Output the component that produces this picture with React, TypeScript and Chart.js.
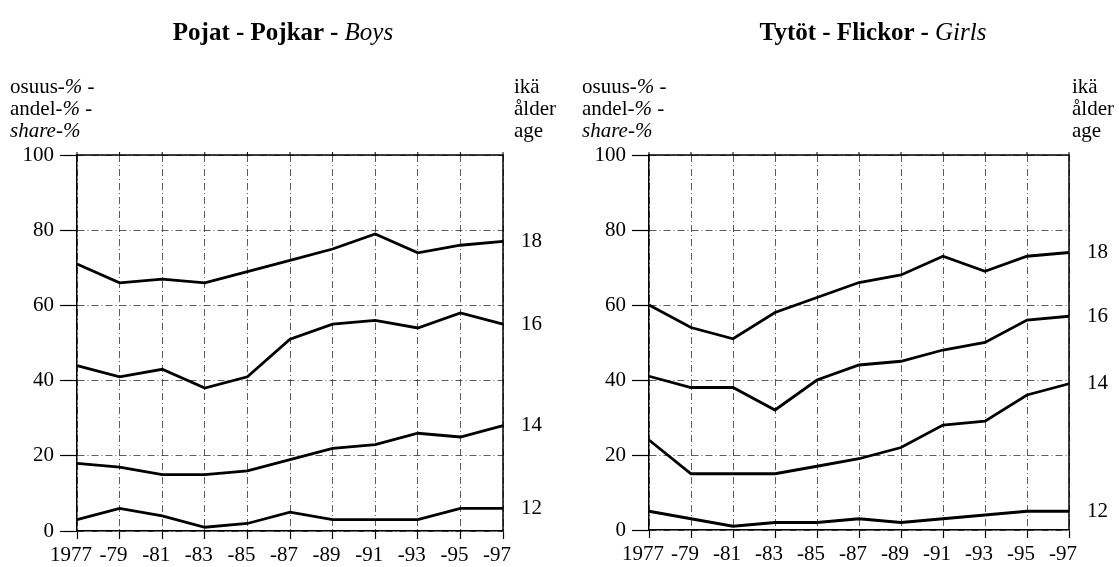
import React, { useEffect, useRef } from 'react';
import { Chart, registerables } from 'chart.js';

Chart.register(...registerables);

const years = ['1977', '-79', '-81', '-83', '-85', '-87', '-89', '-91', '-93', '-95', '-97'];
const ageLabels = ['12', '14', '16', '18'];
const yTickValues = [0, 20, 40, 60, 80, 100];

const boys12 = [3, 6, 4, 1, 2, 5, 3, 3, 3, 6, 6];
const boys14 = [18, 17, 15, 15, 16, 19, 22, 23, 26, 25, 28];
const boys16 = [44, 41, 43, 38, 41, 51, 55, 56, 54, 58, 55];
const boys18 = [71, 66, 67, 66, 69, 72, 75, 79, 74, 76, 77];

const girls12 = [5, 3, 1, 2, 2, 3, 2, 3, 4, 5, 5];
const girls14 = [24, 15, 15, 15, 17, 19, 22, 28, 29, 36, 39];
const girls16 = [41, 38, 38, 32, 40, 44, 45, 48, 50, 56, 57];
const girls18 = [60, 54, 51, 58, 62, 66, 68, 73, 69, 73, 74];

const FONT = '"Liberation Serif", "Times New Roman", serif';

type Area = { left: number; right: number; top: number; bottom: number };

const framePlugin = {
  id: 'frame',
  afterDatasetsDraw(chart: any) {
    const { ctx, chartArea } = chart;
    const xs = chart.scales.x;
    ctx.save();
    ctx.strokeStyle = '#000';
    ctx.lineWidth = 1.5;
    ctx.beginPath();
    ctx.moveTo(chartArea.left, chartArea.top);
    ctx.lineTo(chartArea.right, chartArea.top);
    ctx.lineTo(chartArea.right, chartArea.bottom);
    ctx.stroke();
    ctx.lineWidth = 1;
    for (let i = 0; i < years.length; i++) {
      const x = xs.getPixelForValue(i);
      ctx.beginPath();
      ctx.moveTo(x, chartArea.top - 3);
      ctx.lineTo(x, chartArea.top);
      ctx.stroke();
    }
    ctx.restore();
  },
};

const agePlugin = {
  id: 'ageLabels',
  afterDraw(chart: any) {
    const { ctx, chartArea } = chart;
    const ys = chart.scales.y;
    ctx.save();
    ctx.fillStyle = '#000';
    ctx.font = '21px ' + FONT;
    ctx.textAlign = 'left';
    ctx.textBaseline = 'middle';
    chart.data.datasets.forEach((ds: any) => {
      const v = ds.data[ds.data.length - 1];
      ctx.fillText(ds.label, chartArea.right + 18, ys.getPixelForValue(v));
    });
    ctx.restore();
  },
};

function LineChart(props: { series: number[][]; width: number; height: number; area: Area }) {
  const ref = useRef<HTMLCanvasElement | null>(null);
  const { series, width, height, area } = props;
  useEffect(() => {
    if (!ref.current) return;
    const gridDash = [7, 3, 1, 3];
    const chart = new Chart(ref.current, {
      type: 'line',
      data: {
        labels: years,
        datasets: series.map((s, i) => ({
          label: ageLabels[i],
          data: s,
          borderColor: '#000',
          borderWidth: 2.8,
          pointRadius: 0,
          tension: 0,
          fill: false,
        })),
      },
      options: {
        animation: false,
        responsive: false,
        events: [],
        layout: {
          padding: { left: 0, top: area.top, right: width - area.right, bottom: 0 },
        },
        plugins: {
          legend: { display: false },
          title: { display: false },
          tooltip: { enabled: false },
        },
        scales: {
          x: {
            type: 'category',
            offset: false,
            afterFit: (s: any) => {
              s.height = height - area.bottom;
            },
            grid: {
              display: true,
              color: '#333',
              lineWidth: 0.8,
              drawOnChartArea: true,
              drawTicks: true,
              tickLength: 8,
              tickColor: '#000',
              tickWidth: 1.2,
              tickBorderDash: [],
            },
            border: { display: true, color: '#000', width: 1.5, dash: gridDash },
            ticks: {
              color: '#000',
              font: { family: FONT, size: 21 },
              padding: 4,
              labelOffset: -6,
              maxRotation: 0,
              autoSkip: false,
            },
          },
          y: {
            type: 'linear',
            min: 0,
            max: 100,
            afterFit: (s: any) => {
              s.width = area.left;
            },
            afterBuildTicks: (s: any) => {
              s.ticks = yTickValues.map((v) => ({ value: v }));
            },
            grid: {
              display: true,
              color: '#333',
              lineWidth: 0.8,
              drawOnChartArea: true,
              drawTicks: true,
              tickLength: 17,
              tickColor: '#000',
              tickWidth: 1.2,
              tickBorderDash: [],
            },
            border: { display: true, color: '#000', width: 1.5, dash: gridDash },
            ticks: {
              color: '#000',
              font: { family: FONT, size: 21 },
              padding: 6,
            },
          },
        },
      },
      plugins: [framePlugin, agePlugin],
    } as any);
    return () => chart.destroy();
  }, []);
  return <canvas ref={ref} width={width} height={height} style={{ width, height, display: 'block' }} />;
}

const textBase = {
  position: 'absolute' as const,
  top: 75,
  fontFamily: FONT,
  fontSize: 21,
  lineHeight: '22px',
  whiteSpace: 'nowrap' as const,
  color: '#000',
};

function Caption(props: { left: number }) {
  return (
    <div style={{ ...textBase, left: props.left }}>
      <div>
        osuus-<i>%</i> -
      </div>
      <div>
        andel-<i>%</i> -
      </div>
      <div>
        <i>share-%</i>
      </div>
    </div>
  );
}

function AgeCaption(props: { left: number }) {
  return (
    <div style={{ ...textBase, left: props.left }}>
      <div>ikä</div>
      <div>ålder</div>
      <div>age</div>
    </div>
  );
}

function Title(props: { center: number; bold: string; italic: string }) {
  return (
    <div
      style={{
        position: 'absolute',
        left: props.center - 250,
        width: 500,
        top: 18,
        textAlign: 'center',
        fontFamily: FONT,
        fontSize: 25,
        lineHeight: '28px',
        whiteSpace: 'nowrap',
        color: '#000',
      }}
    >
      <b>{props.bold}</b>
      <i>{props.italic}</i>
    </div>
  );
}

export default function App() {
  return (
    <div
      style={{
        position: 'absolute',
        left: 0,
        top: 0,
        width: 1119,
        height: 567,
        background: '#fff',
        overflow: 'hidden',
      }}
    >
      <div style={{ position: 'absolute', left: 0, top: 0 }}>
        <LineChart
          series={[boys12, boys14, boys16, boys18]}
          width={560}
          height={567}
          area={{ left: 77, right: 503, top: 155, bottom: 531 }}
        />
      </div>
      <div style={{ position: 'absolute', left: 560, top: 0 }}>
        <LineChart
          series={[girls12, girls14, girls16, girls18]}
          width={559}
          height={567}
          area={{ left: 89, right: 509, top: 155, bottom: 530 }}
        />
      </div>
      <Title center={283} bold="Pojat - Pojkar - " italic="Boys" />
      <Title center={873} bold="Tytöt - Flickor - " italic="Girls" />
      <Caption left={10} />
      <Caption left={582} />
      <AgeCaption left={514} />
      <AgeCaption left={1072} />
    </div>
  );
}
